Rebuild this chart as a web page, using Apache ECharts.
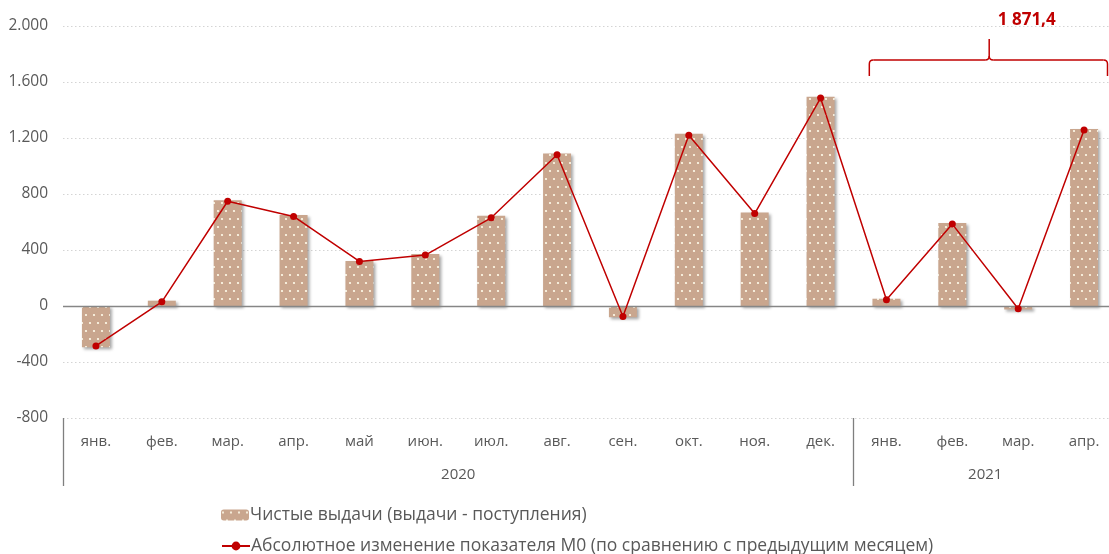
<!DOCTYPE html>
<html><head><meta charset="utf-8">
<script src="https://cdn.jsdelivr.net/npm/echarts@6/dist/echarts.min.js"></script>
<style>html,body{margin:0;padding:0;background:#fff}#c{width:1109px;height:554px}</style>
</head><body><div id="c"></div>
<script>
const categories = ['янв.','фев.','мар.','апр.','май','июн.','июл.','авг.','сен.','окт.','ноя.','дек.','янв.','фев.','мар.','апр.'];
const yearLabels = ['2020','2021'];
const yearCounts = [12, 4];
const netIssues = [-295, 38, 755, 650, 322, 371, 645, 1090, -80, 1230, 668, 1495, 52, 592, -25, 1265];
const m0Change = [-285, 30, 748, 640, 318, 364, 630, 1080, -75, 1220, 660, 1485, 45, 585, -20, 1257];
const yMin = -800, yMax = 2000, yStep = 400;
const seriesNames = ['Чистые выдачи (выдачи - поступления)', 'Абсолютное изменение показателя М0 (по сравнению с предыдущим месяцем)'];
const annotationText = '1 871,4';

const FONT = '"Open Sans", "Noto Sans", sans-serif';
const TXT = '#595959';
const RED = '#C00000';

// dotted fill pattern for bars
const pc = document.createElement('canvas');
pc.width = 8; pc.height = 16;
const g = pc.getContext('2d');
g.fillStyle = '#C9A68E'; g.fillRect(0,0,8,16);
g.fillStyle = 'rgba(255,253,235,1)';
g.beginPath(); g.arc(2, 3, 1.1, 0, Math.PI*2); g.fill();
g.beginPath(); g.arc(6, 11, 1.1, 0, Math.PI*2); g.fill();

// year boundaries / centers
const yearBounds = [0]; const yearCenters = [];
yearCounts.forEach((c,i)=>{ yearCenters.push(yearBounds[i] + c/2); yearBounds.push(yearBounds[i] + c); });

const legendText = { color: TXT, fontSize: 17.5, fontFamily: FONT, padding: [0,0,0,-4] };

const chart = echarts.init(document.getElementById('c'));
chart.setOption({
  animation: false,
  grid: { left: 63, width: 1054, top: 26, bottom: 136, containLabel: false, outerBoundsMode: 'none' },
  legend: [
    { left: 221, top: 506, itemWidth: 28, itemHeight: 11, padding: 0, textStyle: legendText, data: [seriesNames[0]] },
    { left: 221, top: 537, itemWidth: 28, itemHeight: 11, padding: 0, textStyle: legendText, data: [seriesNames[1]] }
  ],
  xAxis: [
    { type: 'category', data: categories, position: 'bottom',
      axisLine: { show: false }, axisTick: { show: false },
      axisLabel: { interval: 0, color: TXT, fontSize: 15, fontFamily: FONT, margin: 16 } },
    { type: 'value', min: 0, max: categories.length, position: 'bottom',
      axisLine: { show: false }, splitLine: { show: false },
      axisTick: { show: true, customValues: yearBounds, length: 68, lineStyle: { color: '#7f7f7f', width: 1.3 } },
      axisLabel: { customValues: yearCenters, margin: 49, color: TXT, fontSize: 15, fontFamily: FONT,
        formatter: v => { const i = yearCenters.findIndex(c => Math.abs(c - v) < 1e-6); return i >= 0 ? yearLabels[i] : ''; } } }
  ],
  yAxis: {
    type: 'value', min: yMin, max: yMax, interval: yStep,
    axisLine: { show: false }, axisTick: { show: false },
    splitLine: { lineStyle: { color: '#d4d4d4', type: [1.5, 2.5], width: 1 } },
    axisLabel: { color: TXT, fontSize: 15.5, fontFamily: FONT, margin: 15,
      formatter: v => { const s = Math.abs(v).toString().replace(/\B(?=(\d{3})+(?!\d))/g, '.'); return (v < 0 ? '-' : '') + s; } }
  },
  series: [
    { name: seriesNames[0], type: 'bar', data: netIssues, barWidth: 28, xAxisIndex: 0,
      itemStyle: { color: { image: pc, repeat: 'repeat' }, shadowColor: 'rgba(0,0,0,0.35)', shadowBlur: 3, shadowOffsetX: 2, shadowOffsetY: 2 },
      markLine: { silent: true, symbol: 'none', label: { show: false },
        lineStyle: { color: '#868686', type: 'solid', width: 1.3 }, data: [{ yAxis: 0 }] } },
    { name: seriesNames[1], type: 'line', data: m0Change, xAxisIndex: 0, z: 5,
      symbol: 'circle', symbolSize: 7,
      lineStyle: { color: RED, width: 1.5 },
      itemStyle: { color: RED } }
  ]
});

// annotation brace over 2021
function drawBrace() {
  const px = v => chart.convertToPixel({ xAxisIndex: 1 }, v);
  const py = v => chart.convertToPixel({ yAxisIndex: 0 }, v);
  const s = yearBounds[1];
  const xl = px(s + 0.24), xr = Math.min(px(s + 3.86), 1107.5), xm = px(s + 2.06);
  const yh = py(1757), yt = py(1907), ye = py(1643);
  const r = 4;
  const st = { stroke: RED, lineWidth: 1.5, fill: null };
  const line = (x1,y1,x2,y2) => ({ type: 'line', silent: true, shape: { x1, y1, x2, y2 }, style: st });
  const curve = (x1,y1,cx,cy,x2,y2) => ({ type: 'bezierCurve', silent: true, shape: { x1, y1, x2, y2, cpx1: cx, cpy1: cy }, style: st });
  chart.setOption({ graphic: [
    line(xl, ye, xl, yh + r),
    curve(xl, yh + r, xl, yh, xl + r, yh),
    line(xl + r, yh, xm - r, yh),
    curve(xm - r, yh, xm, yh, xm, yh - r),
    curve(xm, yh - r, xm, yh, xm + r, yh),
    line(xm, yh - r, xm, yt),
    line(xm + r, yh, xr - r, yh),
    curve(xr - r, yh, xr, yh, xr, yh + r),
    line(xr, yh + r, xr, ye),
    { type: 'text', x: px(s + 2.63), y: py(2045), silent: true,
      style: { text: annotationText, fill: RED, font: 'bold 17px ' + FONT, align: 'center', verticalAlign: 'middle' } }
  ] });
}
drawBrace();
</script></body></html>
